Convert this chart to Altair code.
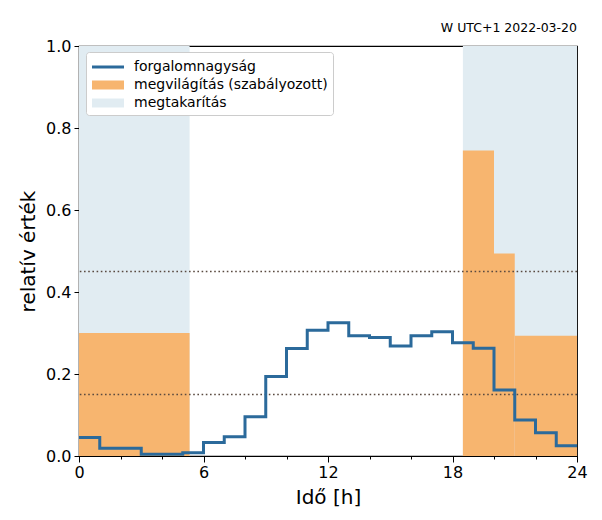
import altair as alt
import pandas as pd

# ---- data ----
hour_starts = list(range(24))
traffic = [0.045, 0.019, 0.019, 0.004, 0.004, 0.008, 0.033, 0.047, 0.096, 0.194,
           0.262, 0.307, 0.325, 0.293, 0.289, 0.268, 0.293, 0.303, 0.276, 0.263,
           0.161, 0.088, 0.057, 0.025]

light_start = [0.0, 18.5, 20.0, 21.0]
light_end = [5.33, 20.0, 21.0, 24.0]
light_level = [0.30, 0.745, 0.494, 0.293]

saving_start = [0.0, 18.5]
saving_end = [5.33, 24.0]

thresholds = [0.15, 0.45]

labels = ["forgalomnagyság", "megvilágítás (szabályozott)", "megtakarítás"]
x_ticks = list(range(25))
y_ticks = [0.0, 0.2, 0.4, 0.6, 0.8, 1.0]

BLUE = "#2b6a9b"
ORANGE = "#f7b56f"
LIGHT = "#e1ecf2"
DOT = "#5a4a40"

# ---- tables ----
line_df = pd.DataFrame({"h": hour_starts + [24], "v": traffic + [traffic[-1]]})
light_df = pd.DataFrame({"s": light_start, "e": light_end, "lo": 0.0, "hi": light_level})
saving_df = pd.DataFrame({"s": saving_start, "e": saving_end, "lo": 0.0, "hi": 1.0})
thr_df = pd.DataFrame({"t": thresholds})
leg_df = pd.DataFrame({"label": labels})

xscale = alt.Scale(domain=[0, 24], nice=False, zero=False)
yscale = alt.Scale(domain=[0, 1], nice=False)

xaxis = alt.Axis(
    values=x_ticks,
    labelExpr="datum.value % 6 === 0 ? datum.label : ''",
    tickSize={"condition": {"test": "datum.value % 6 === 0", "value": 6}, "value": 3},
    labelOverlap=False, labelFlush=False, grid=False,
    title="Idő [h]", titleFontSize=20, titleFontWeight="normal", titlePadding=7,
    labelFontSize=16, labelPadding=2,
)
yaxis = alt.Axis(
    values=y_ticks, format=".1f", grid=False, tickSize=5,
    title="relatív érték", titleFontSize=20, titleFontWeight="normal", titlePadding=7,
    labelFontSize=16, labelPadding=3,
)

saving = alt.Chart(saving_df).mark_rect(color=LIGHT).encode(
    x=alt.X("s:Q", scale=xscale, axis=xaxis), x2="e:Q",
    y=alt.Y("lo:Q", scale=yscale, axis=yaxis), y2="hi:Q",
)
light = alt.Chart(light_df).mark_rect(color=ORANGE).encode(
    x=alt.X("s:Q", scale=xscale), x2="e:Q",
    y=alt.Y("lo:Q", scale=yscale), y2="hi:Q",
)
rules = alt.Chart(thr_df).mark_rule(color=DOT, strokeWidth=1.6, strokeDash=[1.6, 2.6]).encode(
    y=alt.Y("t:Q", scale=yscale),
)
line = alt.Chart(line_df).mark_line(color=BLUE, strokeWidth=3, interpolate="step-after").encode(
    x=alt.X("h:Q", scale=xscale), y=alt.Y("v:Q", scale=yscale),
)

paths = [
    "M-1.6,-0.15H1.6V0.15H-1.6Z",
    "M-1.6,-0.45H1.6V0.45H-1.6Z",
    "M-1.6,-0.45H1.6V0.45H-1.6Z",
]
leg_props = dict(
    title=None, orient="none", legendX=7, legendY=6, padding=5,
    strokeColor="#cccccc", fillColor="#ffffff", cornerRadius=3,
    labelFontSize=14, labelFont="DejaVu Sans", labelLimit=400,
    symbolSize=400, symbolOffset=7, labelOffset=16, rowPadding=1,
    symbolStrokeWidth=0, symbolOpacity=1,
)
legend_layer = alt.Chart(leg_df).mark_point(filled=True).encode(
    color=alt.Color("label:N", scale=alt.Scale(domain=labels, range=[BLUE, ORANGE, LIGHT]),
                    legend=alt.Legend(**leg_props)),
    shape=alt.Shape("label:N", scale=alt.Scale(domain=labels, range=paths),
                    legend=alt.Legend(**leg_props)),
).transform_filter("false")

chart = alt.layer(saving, light, rules, line, legend_layer).properties(
    width=498, height=410,
    title=alt.TitleParams("W UTC+1 2022-03-20", anchor="end", frame="group", fontSize=12.5,
                          font="DejaVu Sans", fontWeight="normal", offset=4, color="black"),
    autosize=alt.AutoSizeParams(type="none"),
    padding={"left": 71, "top": 38, "right": 17, "bottom": 56},
).configure_view(stroke="black", strokeWidth=1.2).configure_axis(
    domainColor="black", tickColor="black", labelColor="black", titleColor="black",
    labelFont="DejaVu Sans", titleFont="DejaVu Sans",
)

chart.save("out.html", embed_options={"renderer": "svg", "actions": False})
